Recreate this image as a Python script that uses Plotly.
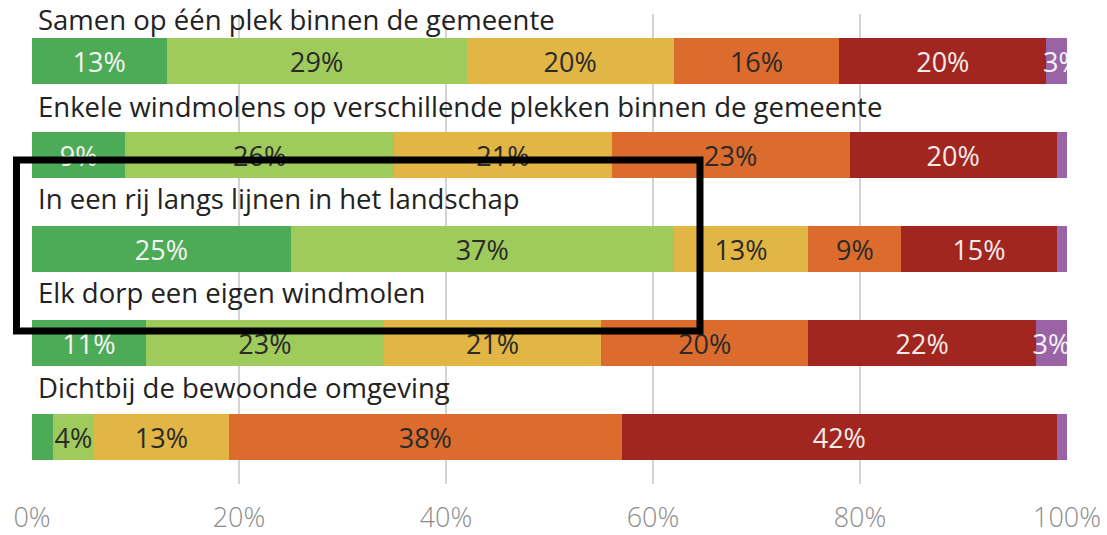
import plotly.graph_objects as go

categories = [
    "Samen op één plek binnen de gemeente",
    "Enkele windmolens op verschillende plekken binnen de gemeente",
    "In een rij langs lijnen in het landschap",
    "Elk dorp een eigen windmolen",
    "Dichtbij de bewoonde omgeving",
]
series_names = ["Categorie 1", "Categorie 2", "Categorie 3", "Categorie 4", "Categorie 5", "Categorie 6"]
s1 = [13, 9, 25, 11, 2]
s2 = [29, 26, 37, 23, 4]
s3 = [20, 21, 13, 21, 13]
s4 = [16, 23, 9, 20, 38]
s5 = [20, 20, 15, 22, 42]
s6 = [3, 2, 1, 3, 1]
series_values = [s1, s2, s3, s4, s5, s6]
tick_vals = [0, 20, 40, 60, 80, 100]
tick_text = ["0%", "20%", "40%", "60%", "80%", "100%"]

colors = ["#4DAA57", "#9ECB5B", "#E1B645", "#DC6B2E", "#A0261F", "#9A63A6"]
text_colors = ["#F4F4F4", "#2A2A2A", "#2A2A2A", "#2A2A2A", "#F6ECEA", "#F4F4F4"]

FONT = "Open Sans"

fig = go.Figure()
for name, vals, col, tcol in zip(series_names, series_values, colors, text_colors):
    fig.add_trace(go.Bar(
        y=categories, x=vals, name=name, orientation="h",
        marker=dict(color=col, line=dict(width=0)),
        text=[f"{v}%" if v >= 3 else "" for v in vals],
        textposition="inside", insidetextanchor="middle",
        textangle=0, constraintext="none",
        textfont=dict(family=FONT, size=27, color=tcol),
        cliponaxis=True, showlegend=False,
    ))

label_shifts = [42, 49, 51, 51, 50]
for cat, ysh in zip(categories, label_shifts):
    fig.add_annotation(
        x=0, y=cat, xref="x", yref="y", text=cat, showarrow=False,
        xanchor="left", yanchor="middle", xshift=4, yshift=ysh,
        font=dict(family=FONT, size=27.5, color="#222222"),
    )

# highlight box
fig.add_shape(type="rect", xref="paper", yref="paper",
              x0=-0.015, x1=0.6454, y0=0.3255, y1=0.6894,
              line=dict(color="black", width=7), fillcolor="rgba(0,0,0,0)",
              layer="above")

fig.update_layout(
    width=1107, height=535, barmode="stack", bargap=0.51,
    margin=dict(l=32, r=40, t=14, b=51, autoexpand=False),
    plot_bgcolor="white", paper_bgcolor="white",
    font=dict(family=FONT),
    xaxis=dict(range=[0, 100], tickvals=tick_vals, ticktext=tick_text,
               showgrid=True, gridcolor="#D3D3D3", gridwidth=1.5,
               zeroline=False, showline=False, ticks="",
               ticklabelstandoff=15, automargin=False,
               tickfont=dict(family=FONT, size=27, color="#8C8C8C", weight=300)),
    yaxis=dict(range=[len(categories) - 0.5, -0.5], autorange=False,
               showticklabels=False, showgrid=False,
               zeroline=False, showline=False, automargin=False),
)

# remove the browser's default 8px body margin so the figure fills the window
fig.write_html("out.html", config={"displayModeBar": False},
               post_script="document.body.style.margin='0';")
